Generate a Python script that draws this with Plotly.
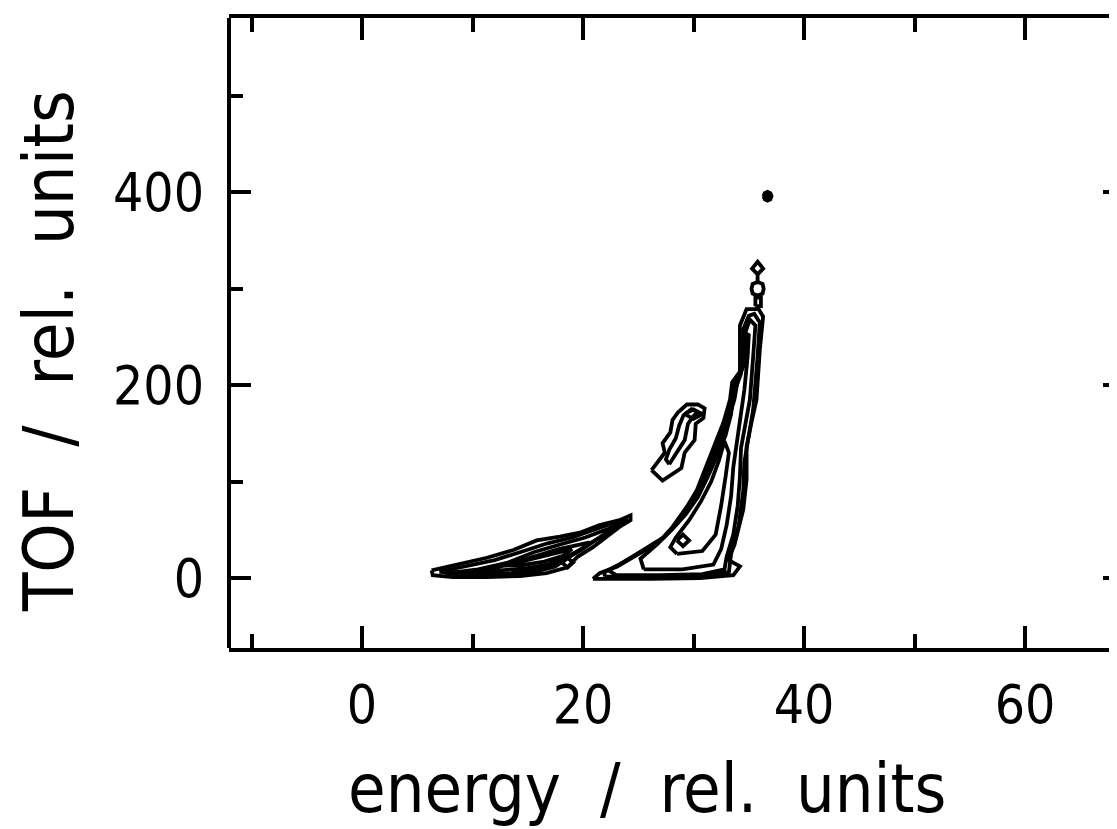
import plotly.graph_objects as go

# ---------------- data (contour outlines, data units) ----------------
X_TICKS = [0, 20, 40, 60]
X_MINOR = [-10, 10, 30, 50]
Y_TICKS = [0, 200, 400]
Y_MINOR = [100, 300, 500]

# right curved band (nested levels)
R1_X = [20.9, 26.1, 30.6, 33.6, 34.2, 33.1, 33.7, 34.5, 34.8, 34.8, 35.2, 35.7, 36.0, 36.3, 35.9, 34.8,
        34.2, 34.2, 33.5, 33.3, 32.7, 31.9, 31.0, 30.3, 29.4, 28.1, 27.0, 25.2, 23.1, 21.5, 20.9]
R1_Y = [-1, -1, 0, 3, 12, 19, 34, 71, 102, 136, 159, 185, 237, 271, 279, 279,
        262, 214, 203, 185, 161, 138, 112, 91, 74, 53, 39, 26, 12, 5, -1]
R1B_X = [22.0, 27.0, 30.7, 33.2, 33.4, 34.1, 34.5, 34.6, 35.0, 35.4, 35.8, 36.0, 35.5, 35.0, 34.5, 34.4,
         33.8, 33.5, 32.9, 32.1, 31.2, 30.5, 29.6, 28.3, 27.2, 25.4, 23.3, 21.9, 22.0]
R1B_Y = [1.5, 1.5, 2, 6, 25, 55, 90, 120, 150, 175, 230, 265, 274, 272, 258, 218,
         204, 185, 161, 139, 113, 92, 75, 54, 41, 28, 14, 6, 1.5]
R2_X = [23.0, 27.0, 30.8, 32.8, 33.0, 33.6, 34.0, 34.2, 34.3, 34.7, 35.1, 35.4, 35.6, 35.1, 34.7, 34.6,
        34.0, 33.7, 33.1, 32.3, 31.4, 30.7, 29.8, 28.5, 27.4, 25.6, 23.6, 22.3, 23.0]
R2_Y = [3, 3, 4, 9, 22, 45, 75, 105, 135, 160, 185, 230, 262, 268, 255, 222,
        205, 185, 162, 140, 114, 94, 77, 56, 43, 30, 16, 8, 3]
R3_X = [25.5, 29.0, 31.8, 32.5, 33.0, 33.4, 33.6, 33.9, 34.2, 34.6, 34.9, 35.0, 34.7, 34.4, 34.3, 33.6,
        33.4, 32.9, 32.1, 31.3, 30.4, 29.3, 28.0, 26.7, 25.2, 25.5]
R3_Y = [9, 9, 14, 30, 55, 85, 115, 140, 165, 195, 230, 252, 254, 235, 212, 190,
        170, 148, 126, 105, 84, 66, 50, 35, 20, 9]
R4_X = [28.5, 30.8, 32.0, 32.5, 32.9, 33.2, 32.8, 32.3, 31.6, 30.7, 29.6, 28.4, 27.9, 28.5]
R4_Y = [25, 28, 45, 75, 105, 130, 142, 122, 100, 80, 60, 42, 32, 25]
R5_X = [34.5, 34.8, 34.9, 34.6, 34.4, 34.5]
R5_Y = [222, 228, 250, 250, 236, 222]
R6_X = [28.5, 29.05, 29.6, 29.05, 28.5]
R6_Y = [39, 45, 39, 33, 39]

# spike tip: neck, small circle, diamond
T1_X = [35.6, 36.1, 36.1, 35.6, 35.6]
T1_Y = [282, 282, 291, 291, 282]
T2_X = [35.8, 36.25, 36.35, 36.25, 35.8, 35.35, 35.25, 35.35, 35.8]
T2_Y = [307, 305, 300, 295, 293, 295, 300, 305, 307]
T3_X = [35.8, 35.8, 35.3, 35.8, 36.3, 35.8]
T3_Y = [307, 315, 321, 328, 321, 315]

# isolated dot
D_X = [36.3, 36.42, 36.7, 36.98, 37.1, 36.98, 36.7, 36.42, 36.3]
D_Y = [396, 399.5, 401, 399.5, 396, 392.5, 391, 392.5, 396]

# island
I1_X = [26.2, 27.2, 28.9, 29.2, 30.1, 30.2, 30.9, 31.0, 30.4, 29.4, 28.6, 28.1, 27.9, 27.2, 27.4, 26.6, 26.2]
I1_Y = [112, 101, 114, 130, 143, 160, 166, 176, 180, 180, 172, 164, 151, 140, 130, 119, 112]
I2_X = [27.8, 28.4, 29.2, 29.5, 30.0, 30.4, 29.8, 29.1, 28.7, 28.4, 27.8, 27.5, 27.8]
I2_Y = [118, 129, 143, 160, 168, 172, 175, 169, 158, 145, 133, 123, 118]
I3_X = [29.2, 30.0, 30.8, 30.0, 29.2]
I3_Y = [170, 175, 170, 165, 170]

# lower-left elongated structure
L1_X = [6.3, 8.2, 11.3, 13.7, 15.8, 17.9, 19.7, 21.5, 23.3, 24.3, 24.3, 23.3, 22.2, 20.9, 19.5, 18.6,
        16.7, 14.3, 11.3, 8.2, 6.4, 6.3]
L1_Y = [8, 13, 21, 29, 39, 43, 47, 55, 60, 65, 60, 53, 43, 32, 22, 11,
        5, 2, 1, 1, 3, 8]
L1B_X = [7.0, 9.0, 12.0, 14.5, 16.8, 19.0, 21.0, 23.0, 24.0, 23.5, 22.0, 20.5, 19.0, 17.5, 15.5, 12.5, 9.5, 7.0]
L1B_Y = [6.5, 11, 18.5, 27.5, 36, 42, 50, 57, 62, 56, 46, 35, 24, 12, 6, 3.5, 2.5, 6.5]
L2_X = [7.8, 10.5, 13.2, 15.6, 18.0, 20.2, 22.3, 23.6, 22.8, 21.2, 19.8, 18.0, 16.0, 13.5, 10.5, 7.8]
L2_Y = [5, 9, 16, 27, 35, 42, 51, 58, 52, 40, 29, 17, 9, 5, 3.5, 5]
L3_X = [10.5, 13.0, 15.5, 17.8, 19.8, 20.6, 19.9, 18.5, 16.8, 14.8, 12.5, 10.5]
L3_Y = [8, 13, 22, 30, 35, 37, 30, 22, 14, 10, 8, 8]
L4_X = [13.0, 15.2, 17.4, 19.0, 18.2, 16.5, 14.6, 13.0]
L4_Y = [13, 19, 26, 30, 23, 17, 13.5, 13]
L5_X = [7.5, 9.5, 12.0, 10.0, 8.0, 7.5]
L5_Y = [5.5, 6.5, 7.5, 5.5, 4.5, 5.5]
L6_X = [18.1, 18.6, 19.1, 18.6, 18.1]
L6_Y = [16, 21, 16, 11, 16]

CONTOURS = [
    (R1_X, R1_Y), (R1B_X, R1B_Y), (R2_X, R2_Y), (R3_X, R3_Y), (R4_X, R4_Y), (R5_X, R5_Y), (R6_X, R6_Y),
    (T1_X, T1_Y), (T2_X, T2_Y), (T3_X, T3_Y),
    (I1_X, I1_Y), (I2_X, I2_Y), (I3_X, I3_Y),
    (L1_X, L1_Y), (L1B_X, L1B_Y), (L2_X, L2_Y), (L3_X, L3_Y), (L4_X, L4_Y), (L5_X, L5_Y), (L6_X, L6_Y),
]

X_TITLE = "energy\u00a0\u00a0/\u00a0\u00a0rel.\u00a0\u00a0units"
Y_TITLE = "TOF\u00a0\u00a0/\u00a0\u00a0rel.\u00a0\u00a0units"

FONT = "DejaVu Sans Condensed, Liberation Sans Narrow, DejaVu Sans, sans-serif"

# ---------------- figure ----------------
# note: the page body has an 8px default margin, so the figure starts at (8, 8)
fig = go.Figure()
for cx, cy in CONTOURS:
    fig.add_trace(go.Scatter(x=cx, y=cy, mode="lines",
                             line=dict(color="black", width=3.8),
                             hoverinfo="skip", showlegend=False))
fig.add_trace(go.Scatter(x=D_X, y=D_Y, mode="lines", fill="toself", fillcolor="black",
                         line=dict(color="black", width=3), hoverinfo="skip", showlegend=False))

fig.update_layout(
    width=1117, height=829,
    margin=dict(l=221, r=0, t=10, b=189, pad=0),
    paper_bgcolor="white", plot_bgcolor="white",
    font=dict(family=FONT, color="black"),
    xaxis=dict(range=[-12.04, 69.05], showgrid=False, zeroline=False,
               showline=True, linewidth=4, linecolor="black", mirror="ticks",
               ticks="inside", ticklen=22, tickwidth=3.5, tickcolor="black",
               tickvals=X_TICKS, ticktext=[str(v) for v in X_TICKS],
               tickfont=dict(size=53, family=FONT), ticklabelstandoff=7,
               minor=dict(tickvals=X_MINOR, ticks="inside", ticklen=14, tickwidth=3.5,
                          tickcolor="black", showgrid=False)),
    yaxis=dict(range=[-72.6, 580.9], showgrid=False, zeroline=False,
               showline=False, mirror="ticks",
               ticks="inside", ticklen=22, tickwidth=3.5, tickcolor="black",
               tickvals=Y_TICKS, ticktext=[str(v) for v in Y_TICKS],
               tickfont=dict(size=53, family=FONT), ticklabelstandoff=24,
               minor=dict(tickvals=Y_MINOR, ticks="inside", ticklen=14, tickwidth=3.5,
                          tickcolor="black", showgrid=False)),
    shapes=[dict(type="line", xref="paper", yref="paper", x0=0, x1=0, y0=0, y1=1,
                 line=dict(color="black", width=4), layer="above")],
    annotations=[
        dict(text=X_TITLE, xref="paper", yref="paper", x=0.466, y=-0.2238,
             xanchor="center", yanchor="middle", showarrow=False,
             font=dict(size=68, family=FONT, color="black")),
        dict(text=Y_TITLE, xref="paper", yref="paper", x=-0.2015, y=0.472,
             xanchor="center", yanchor="middle", showarrow=False, textangle=-90,
             font=dict(size=70, family=FONT, color="black")),
    ],
)

fig.write_html("out.html")
